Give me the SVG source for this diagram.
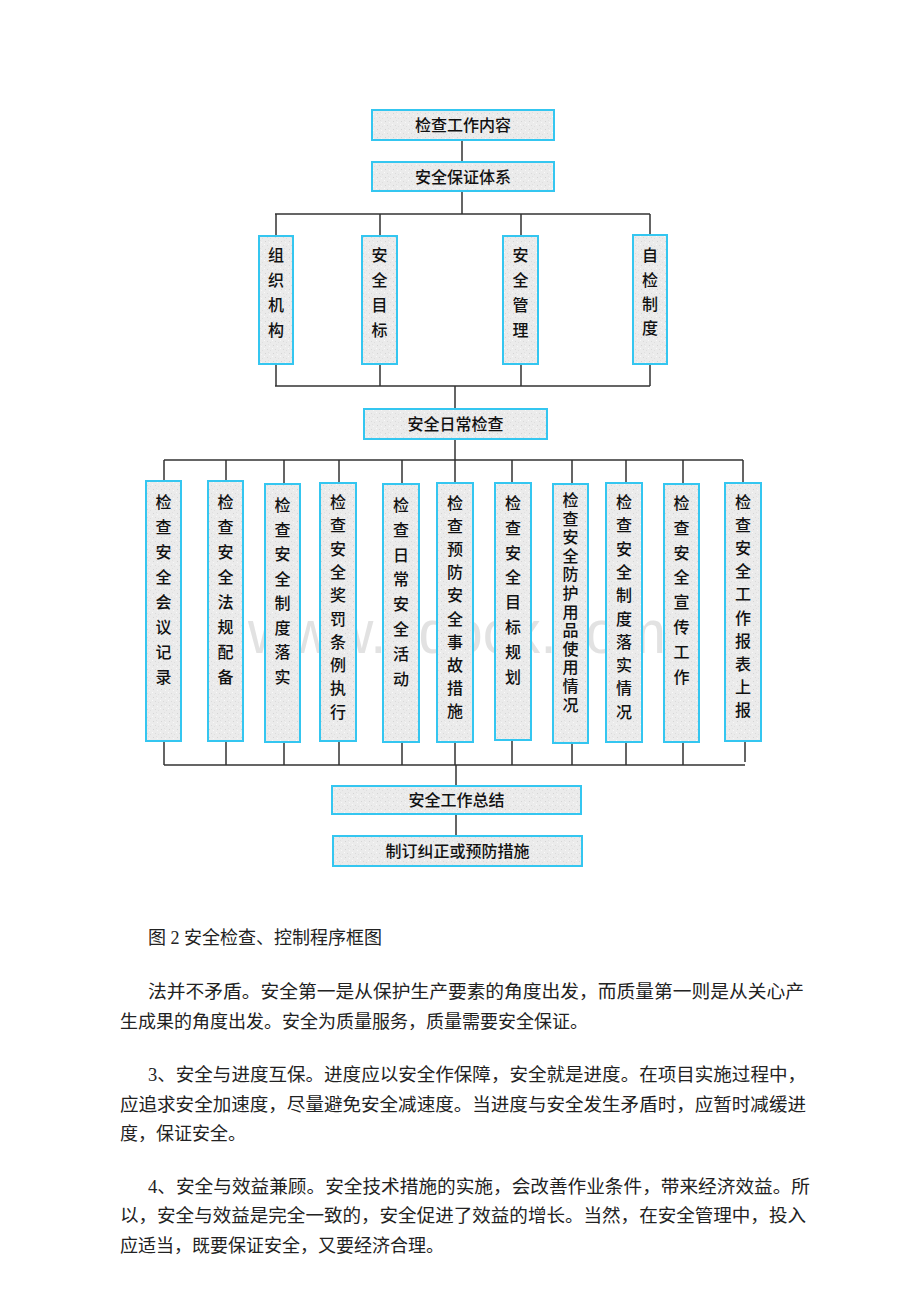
<svg xmlns="http://www.w3.org/2000/svg" width="920" height="1302" viewBox="0 0 920 1302">
<defs>
<pattern id="speck" width="8" height="8" patternUnits="userSpaceOnUse">
<rect width="8" height="8" fill="#ebebeb"/>
<rect x="1" y="1" width="1" height="1" fill="#d4d4d4"/>
<rect x="5" y="2" width="1" height="1" fill="#f8f8f8"/>
<rect x="3" y="5" width="1" height="1" fill="#d9d9d9"/>
<rect x="6" y="6" width="1" height="1" fill="#dedede"/>
<rect x="0" y="4" width="1" height="1" fill="#fafafa"/>
<rect x="4" y="0" width="1" height="1" fill="#e0e0e0"/>
</pattern>
<style>
.box{fill:url(#speck);stroke:#34c6f0;stroke-width:2}
.lbl{font-family:"Noto Sans CJK SC","Noto Sans",sans-serif;font-size:16px;font-weight:500;fill:#111;text-anchor:middle}
.con{fill:none;stroke:#333;stroke-width:1.5}
.body{font-family:"Liberation Serif","Noto Sans CJK SC",serif;font-size:18px;fill:#222}
.wm{font-family:"Liberation Sans",Arial,sans-serif;font-size:62px;fill:#e2e2e2}
</style>
</defs>
<rect width="920" height="1302" fill="#fff"/>
<text class="wm" x="248" y="653" textLength="418" lengthAdjust="spacingAndGlyphs">www.bdocx.com</text>

<g id="connectors">
<path class="con" d="M462 140V162M462 191V214M275 214H650M276 214V236M380 214V236M521 214V236M650 214V235M276 364V386M380 364V386M521 364V386M650 364V386M275 386H650M455 386V409M455 439V460M164 460H743"/>
<path class="con" d="M164 460V481M226 460V481M284 460V484M339 460V483M402 460V484M455 460V483M512 460V483M572 460V484M626 460V483M683 460V484M743 460V483"/>
<path class="con" d="M164 741V765M226 741V765M284 742V765M339 741V765M402 742V765M455 742V765M512 740V765M572 743V765M626 742V765M683 742V765M745 741V762M164 765H745M456 765V786M456 814V836"/>
</g>

<g id="n-jczgnr"><rect class="box" x="372" y="110" width="182" height="30"/><text class="lbl" x="463" y="131">检查工作内容</text></g>
<g id="n-aqbztx"><rect class="box" x="372" y="162" width="182" height="29"/><text class="lbl" x="463" y="183">安全保证体系</text></g>

<g id="n-zzjg"><rect class="box" x="259" y="236" width="34" height="128"/><text class="lbl"><tspan x="276" y="261">组</tspan><tspan x="276" y="286">织</tspan><tspan x="276" y="311">机</tspan><tspan x="276" y="336">构</tspan></text></g>
<g id="n-aqmb"><rect class="box" x="362" y="236" width="35" height="128"/><text class="lbl"><tspan x="379.5" y="261">安</tspan><tspan x="379.5" y="286">全</tspan><tspan x="379.5" y="311">目</tspan><tspan x="379.5" y="336">标</tspan></text></g>
<g id="n-aqgl"><rect class="box" x="503" y="236" width="35" height="128"/><text class="lbl"><tspan x="520.5" y="261">安</tspan><tspan x="520.5" y="286">全</tspan><tspan x="520.5" y="311">管</tspan><tspan x="520.5" y="336">理</tspan></text></g>
<g id="n-zjzd"><rect class="box" x="633" y="235" width="34" height="129"/><text class="lbl"><tspan x="650" y="261">自</tspan><tspan x="650" y="286">检</tspan><tspan x="650" y="310">制</tspan><tspan x="650" y="334">度</tspan></text></g>

<g id="n-aqrcjc"><rect class="box" x="364" y="409" width="183" height="30"/><text class="lbl" x="455.5" y="430">安全日常检查</text></g>

<g id="n-b1"><rect class="box" x="146" y="481" width="35" height="260"/><text class="lbl"><tspan x="163.5" y="508">检</tspan><tspan x="163.5" y="533">查</tspan><tspan x="163.5" y="558">安</tspan><tspan x="163.5" y="583">全</tspan><tspan x="163.5" y="608">会</tspan><tspan x="163.5" y="633">议</tspan><tspan x="163.5" y="658">记</tspan><tspan x="163.5" y="683">录</tspan></text></g>
<g id="n-b2"><rect class="box" x="208" y="481" width="35" height="260"/><text class="lbl"><tspan x="225.5" y="508">检</tspan><tspan x="225.5" y="533">查</tspan><tspan x="225.5" y="558">安</tspan><tspan x="225.5" y="583">全</tspan><tspan x="225.5" y="608">法</tspan><tspan x="225.5" y="633">规</tspan><tspan x="225.5" y="658">配</tspan><tspan x="225.5" y="683">备</tspan></text></g>
<g id="n-b3"><rect class="box" x="265" y="484" width="35" height="258"/><text class="lbl"><tspan x="282.5" y="511">检</tspan><tspan x="282.5" y="535.5">查</tspan><tspan x="282.5" y="560">安</tspan><tspan x="282.5" y="584.5">全</tspan><tspan x="282.5" y="609">制</tspan><tspan x="282.5" y="633.5">度</tspan><tspan x="282.5" y="658">落</tspan><tspan x="282.5" y="682.5">实</tspan></text></g>
<g id="n-b4"><rect class="box" x="320" y="483" width="36" height="258"/><text class="lbl"><tspan x="338" y="508">检</tspan><tspan x="338" y="531.3">查</tspan><tspan x="338" y="554.6">安</tspan><tspan x="338" y="577.9">全</tspan><tspan x="338" y="601.2">奖</tspan><tspan x="338" y="624.5">罚</tspan><tspan x="338" y="647.8">条</tspan><tspan x="338" y="671.1">例</tspan><tspan x="338" y="694.4">执</tspan><tspan x="338" y="717.7">行</tspan></text></g>
<g id="n-b5"><rect class="box" x="383" y="484" width="36" height="258"/><text class="lbl"><tspan x="401" y="511">检</tspan><tspan x="401" y="535.8">查</tspan><tspan x="401" y="560.6">日</tspan><tspan x="401" y="585.4">常</tspan><tspan x="401" y="610.2">安</tspan><tspan x="401" y="635">全</tspan><tspan x="401" y="659.8">活</tspan><tspan x="401" y="684.6">动</tspan></text></g>
<g id="n-b6"><rect class="box" x="437" y="483" width="36" height="259"/><text class="lbl"><tspan x="455" y="509">检</tspan><tspan x="455" y="532.1">查</tspan><tspan x="455" y="555.2">预</tspan><tspan x="455" y="578.3">防</tspan><tspan x="455" y="601.4">安</tspan><tspan x="455" y="624.5">全</tspan><tspan x="455" y="647.6">事</tspan><tspan x="455" y="670.7">故</tspan><tspan x="455" y="693.8">措</tspan><tspan x="455" y="716.9">施</tspan></text></g>
<g id="n-b7"><rect class="box" x="495" y="483" width="36" height="257"/><text class="lbl"><tspan x="513" y="509">检</tspan><tspan x="513" y="533.8">查</tspan><tspan x="513" y="558.6">安</tspan><tspan x="513" y="583.4">全</tspan><tspan x="513" y="608.2">目</tspan><tspan x="513" y="633">标</tspan><tspan x="513" y="657.8">规</tspan><tspan x="513" y="682.6">划</tspan></text></g>
<g id="n-b8"><rect class="box" x="553" y="484" width="35" height="259"/><text class="lbl"><tspan x="570.5" y="506">检</tspan><tspan x="570.5" y="524.6">查</tspan><tspan x="570.5" y="543.2">安</tspan><tspan x="570.5" y="561.8">全</tspan><tspan x="570.5" y="580.4">防</tspan><tspan x="570.5" y="599">护</tspan><tspan x="570.5" y="617.6">用</tspan><tspan x="570.5" y="636.2">品</tspan><tspan x="570.5" y="654.8">使</tspan><tspan x="570.5" y="673.4">用</tspan><tspan x="570.5" y="692">情</tspan><tspan x="570.5" y="710.6">况</tspan></text></g>
<g id="n-b9"><rect class="box" x="606" y="483" width="36" height="259"/><text class="lbl"><tspan x="624" y="508">检</tspan><tspan x="624" y="531.3">查</tspan><tspan x="624" y="554.6">安</tspan><tspan x="624" y="577.9">全</tspan><tspan x="624" y="601.2">制</tspan><tspan x="624" y="624.5">度</tspan><tspan x="624" y="647.8">落</tspan><tspan x="624" y="671.1">实</tspan><tspan x="624" y="694.4">情</tspan><tspan x="624" y="717.7">况</tspan></text></g>
<g id="n-b10"><rect class="box" x="664" y="484" width="35" height="258"/><text class="lbl"><tspan x="681.5" y="509">检</tspan><tspan x="681.5" y="533.8">查</tspan><tspan x="681.5" y="558.6">安</tspan><tspan x="681.5" y="583.4">全</tspan><tspan x="681.5" y="608.2">宣</tspan><tspan x="681.5" y="633">传</tspan><tspan x="681.5" y="657.8">工</tspan><tspan x="681.5" y="682.6">作</tspan></text></g>
<g id="n-b11"><rect class="box" x="725" y="483" width="36" height="258"/><text class="lbl"><tspan x="743" y="508">检</tspan><tspan x="743" y="531.1">查</tspan><tspan x="743" y="554.2">安</tspan><tspan x="743" y="577.3">全</tspan><tspan x="743" y="600.4">工</tspan><tspan x="743" y="623.5">作</tspan><tspan x="743" y="646.6">报</tspan><tspan x="743" y="669.7">表</tspan><tspan x="743" y="692.8">上</tspan><tspan x="743" y="715.9">报</tspan></text></g>

<g id="n-aqgzzj"><rect class="box" x="332" y="786" width="249" height="28"/><text class="lbl" x="456.5" y="806">安全工作总结</text></g>
<g id="n-zdjzcs"><rect class="box" x="333" y="836" width="249" height="30"/><text class="lbl" x="457.5" y="857">制订纠正或预防措施</text></g>

<g id="body-text">
<text class="body" x="148" y="944">图 2 安全检查、控制程序框图</text>
<text class="body" x="148" y="998" textLength="656" lengthAdjust="spacingAndGlyphs">法并不矛盾。安全第一是从保护生产要素的角度出发，而质量第一则是从关心产</text>
<text class="body" x="120" y="1028">生成果的角度出发。安全为质量服务，质量需要安全保证。</text>
<text class="body" x="148" y="1081" textLength="658" lengthAdjust="spacingAndGlyphs">3、安全与进度互保。进度应以安全作保障，安全就是进度。在项目实施过程中，</text>
<text class="body" x="120" y="1111" textLength="686" lengthAdjust="spacingAndGlyphs">应追求安全加速度，尽量避免安全减速度。当进度与安全发生矛盾时，应暂时减缓进</text>
<text class="body" x="120" y="1140">度，保证安全。</text>
<text class="body" x="148" y="1193" textLength="662" lengthAdjust="spacingAndGlyphs">4、安全与效益兼顾。安全技术措施的实施，会改善作业条件，带来经济效益。所</text>
<text class="body" x="120" y="1222" textLength="686" lengthAdjust="spacingAndGlyphs">以，安全与效益是完全一致的，安全促进了效益的增长。当然，在安全管理中，投入</text>
<text class="body" x="120" y="1252">应适当，既要保证安全，又要经济合理。</text>
</g>
</svg>
